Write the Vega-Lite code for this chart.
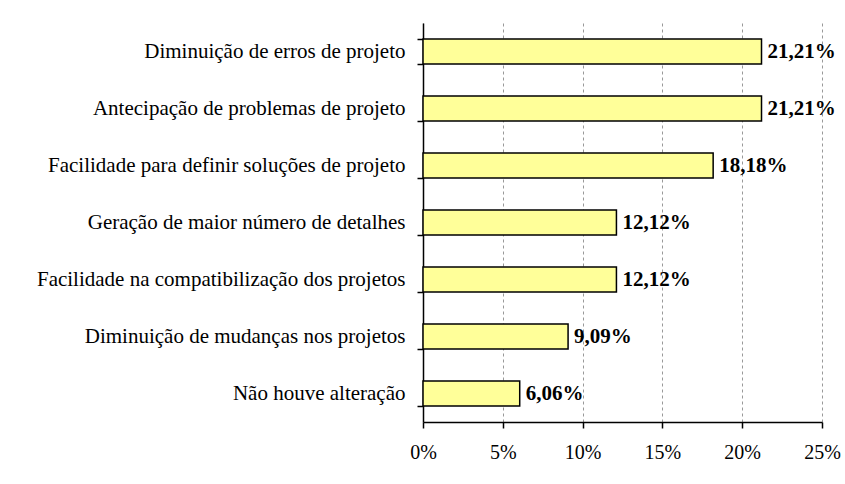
{
  "$schema": "https://vega.github.io/schema/vega-lite/v6.json",
  "width": 399,
  "height": 399,
  "autosize": {"type": "none"},
  "padding": {"left": 423, "top": 23, "right": 23, "bottom": 62},
  "background": "white",
  "data": {
    "values": [
      {"categoria": "Diminuição de erros de projeto", "valor": 0.2121},
      {"categoria": "Antecipação de problemas de projeto", "valor": 0.2121},
      {"categoria": "Facilidade para definir soluções de projeto", "valor": 0.1818},
      {"categoria": "Geração de maior número de detalhes", "valor": 0.1212},
      {"categoria": "Facilidade na compatibilização dos projetos", "valor": 0.1212},
      {"categoria": "Diminuição de mudanças nos projetos", "valor": 0.0909},
      {"categoria": "Não houve alteração", "valor": 0.0606}
    ]
  },
  "encoding": {
    "y": {
      "field": "categoria",
      "type": "nominal",
      "sort": null,
      "title": null,
      "scale": {"paddingInner": 0.56, "paddingOuter": 0.28},
      "axis": {
        "orient": "left",
        "domain": true,
        "domainColor": "black",
        "domainWidth": 1.5,
        "ticks": true,
        "tickBand": "extent",
        "tickColor": "black",
        "tickWidth": 1.5,
        "tickSize": 6,
        "labelPadding": 12,
        "labelFont": "Liberation Serif",
        "labelFontSize": 21,
        "labelColor": "black",
        "labelLimit": 0,
        "grid": false
      }
    },
    "x": {
      "field": "valor",
      "type": "quantitative",
      "title": null,
      "scale": {"domain": [0, 0.25], "nice": false},
      "axis": {
        "values": [0, 0.05, 0.1, 0.15, 0.2, 0.25],
        "format": ".0%",
        "labelFlush": false,
        "labelOverlap": false,
        "domain": true,
        "domainColor": "black",
        "domainWidth": 1.5,
        "tickColor": "black",
        "tickWidth": 1.5,
        "tickSize": 6,
        "labelPadding": 14,
        "labelFont": "Liberation Serif",
        "labelFontSize": 20,
        "labelColor": "black",
        "grid": true,
        "gridColor": "#999999",
        "gridDash": [3, 3],
        "gridWidth": 1
      }
    }
  },
  "layer": [
    {
      "mark": {"type": "bar", "fill": "#FFFF99", "stroke": "black", "strokeWidth": 1.5}
    },
    {
      "mark": {
        "type": "text",
        "align": "left",
        "baseline": "middle",
        "dx": 6,
        "font": "Liberation Serif",
        "fontSize": 21,
        "fontWeight": "bold",
        "color": "black"
      },
      "encoding": {
        "text": {"field": "valor", "type": "quantitative", "format": ".2%"}
      }
    }
  ],
  "config": {
    "view": {"stroke": null},
    "locale": {
      "number": {
        "decimal": ",",
        "thousands": ".",
        "grouping": [3],
        "currency": ["R$", ""]
      }
    }
  }
}
